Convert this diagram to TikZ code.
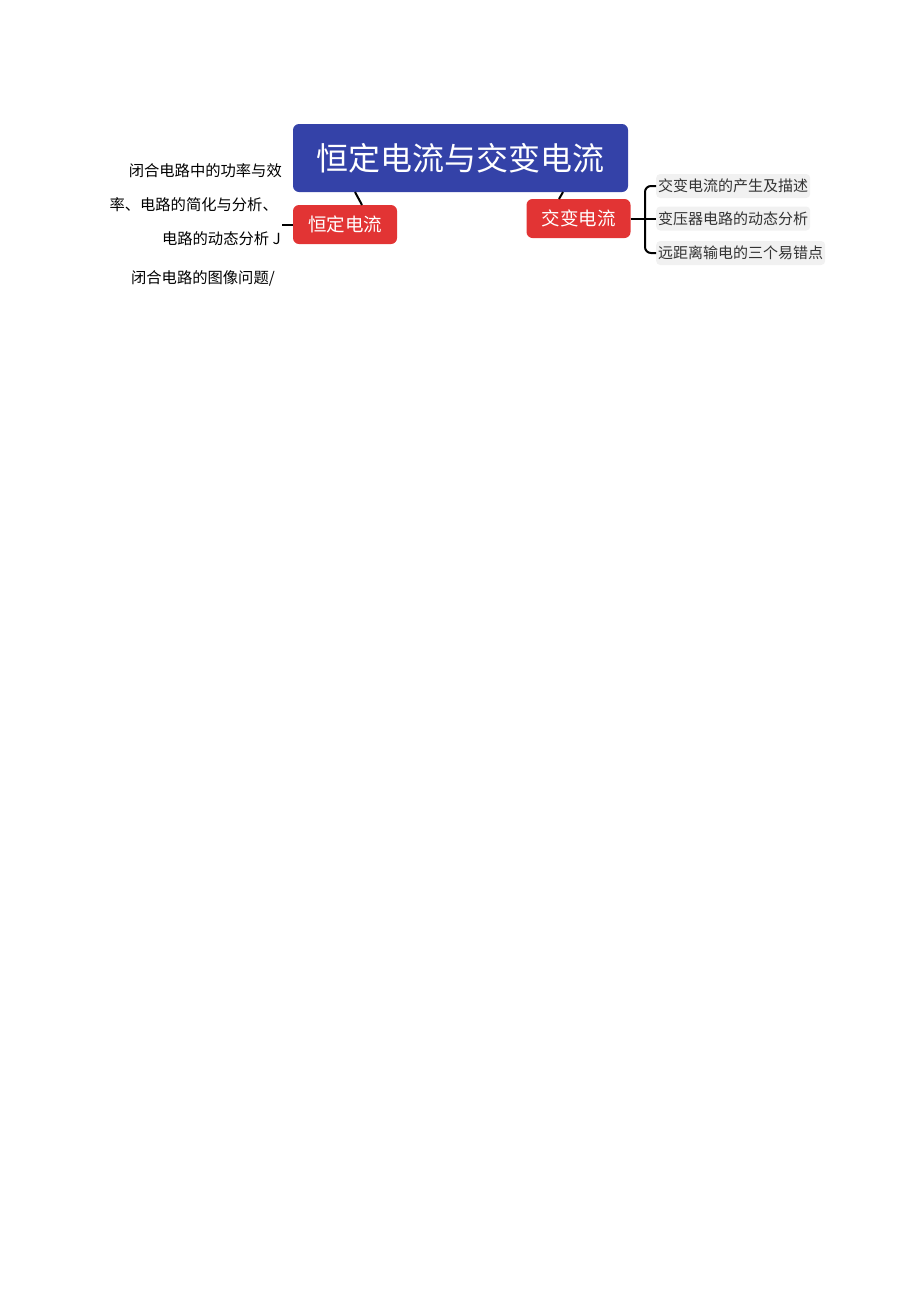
\documentclass[tikz,border=0pt]{standalone}
\usepackage{fontspec}
\setmainfont{Liberation Serif}
\newfontfamily\cjk{Noto Sans CJK SC}
\definecolor{titleblue}{HTML}{3442A8}
\definecolor{topicred}{HTML}{E23434}
\definecolor{itembg}{HTML}{F1F1F1}
\definecolor{itemtext}{HTML}{333333}
\tikzset{
  titlebox/.style={fill=titleblue, rounded corners=6pt, text=white, font=\cjk\fontsize{32}{34}\selectfont, minimum width=335pt, minimum height=68pt, inner sep=0pt},
  topicbox/.style={fill=topicred, rounded corners=6pt, text=white, font=\cjk\fontsize{18.5}{20}\selectfont, minimum width=104pt, minimum height=39pt, inner sep=0pt},
  itembox/.style={fill=itembg, rounded corners=4pt, text=itemtext, font=\cjk\fontsize{15}{17}\selectfont, minimum height=24pt, inner sep=2pt, anchor=west},
  lefttext/.style={text=black, font=\cjk\fontsize{15.3}{17}\selectfont, anchor=east, inner sep=0pt},
  link/.style={draw=black, line width=2pt}
}
\begin{document}
\begin{tikzpicture}[x=1pt,y=-1pt]
\useasboundingbox (0,0) rectangle (920,1301);
\node[titlebox] (title) at (460.5,158) {恒定电流与交变电流};
\node[topicbox] (left) at (345,224.5) {恒定电流};
\node[topicbox] (right) at (578.5,218.5) {交变电流};
\draw[link] (355,192) -- (362,205);
\draw[link] (563,192) -- (559,199);
% left branch
\coordinate (lstub) at (282,224.5);
\draw[link] (left.west) -- (lstub);
\node[lefttext] (l1) at (282,171) {闭合电路中的功率与效};
\node[lefttext] (l2) at (278,205) {率、电路的简化与分析、};
\node[lefttext] (l3) at (281,239) {电路的动态分析 J};
\node[lefttext] (l4) at (275,278) {闭合电路的图像问题/};
% right branch
\node[itembox] (r1) at (656,186) {交变电流的产生及描述};
\node[itembox] (r2) at (656,218.5) {变压器电路的动态分析};
\node[itembox] (r3) at (656,253) {远距离输电的三个易错点};
\coordinate (br) at (645,218.5);
\draw[link] (right.east) -- (br);
\draw[link, rounded corners=6pt] (r1.west) -| (br) |- (r3.west);
\draw[link] (br) -- (r2.west);
\end{tikzpicture}
\end{document}
